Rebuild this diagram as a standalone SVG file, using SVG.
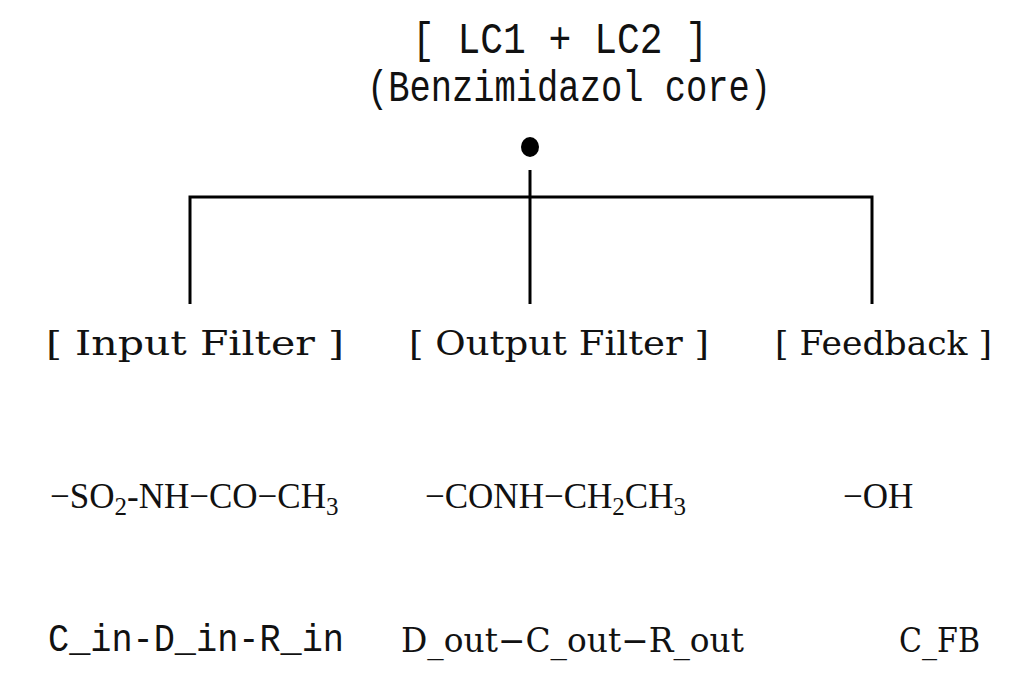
<svg xmlns="http://www.w3.org/2000/svg" width="1024" height="683" viewBox="0 0 1024 683">
<style>
.mono{font-family:"Liberation Mono","DejaVu Sans Mono",monospace;fill:#111}
.ser{font-family:"DejaVu Serif","Liberation Serif",serif;fill:#111}
.chem{font-family:"Liberation Serif","DejaVu Serif",serif;fill:#111;font-size:35px}
.sub{font-size:25px}
.ln{stroke:#000;stroke-width:3;fill:none}
</style>
<rect width="1024" height="683" fill="#fff"/>
<g id="core">
<text class="mono" x="412" y="53" font-size="44" textLength="296" lengthAdjust="spacingAndGlyphs">[ LC1 + LC2 ]</text>
<text class="mono" x="367" y="101" font-size="44" textLength="404" lengthAdjust="spacingAndGlyphs">(Benzimidazol core)</text>
<ellipse cx="530" cy="147" rx="9" ry="10" fill="#000"/>
</g>
<g id="connectors">
<path class="ln" d="M530 170 V304"/>
<path class="ln" d="M190 304 V197 H872 V304"/>
</g>
<g id="input-filter">
<text class="ser" x="46" y="355" font-size="34" textLength="298" lengthAdjust="spacingAndGlyphs">[ Input Filter ]</text>
<text class="chem" x="50" y="508">−SO<tspan class="sub" baseline-shift="-7">2</tspan>-NH−CO−CH<tspan class="sub" baseline-shift="-7">3</tspan></text>
<text class="mono" x="48" y="651" font-size="38" textLength="296" lengthAdjust="spacingAndGlyphs">C_in-D_in-R_in</text>
</g>
<g id="output-filter">
<text class="ser" x="409" y="355" font-size="34" textLength="300" lengthAdjust="spacingAndGlyphs">[ Output Filter ]</text>
<text class="chem" x="425" y="508">−CONH−CH<tspan class="sub" baseline-shift="-7">2</tspan>CH<tspan class="sub" baseline-shift="-7">3</tspan></text>
<text class="ser" x="401" y="652" font-size="33" textLength="343" lengthAdjust="spacingAndGlyphs">D_out−C_out−R_out</text>
</g>
<g id="feedback">
<text class="ser" x="775" y="355" font-size="34" textLength="217" lengthAdjust="spacingAndGlyphs">[ Feedback ]</text>
<text class="chem" x="843" y="508">−OH</text>
<text class="ser" x="899" y="652" font-size="33" textLength="81" lengthAdjust="spacingAndGlyphs">C_FB</text>
</g>
</svg>
